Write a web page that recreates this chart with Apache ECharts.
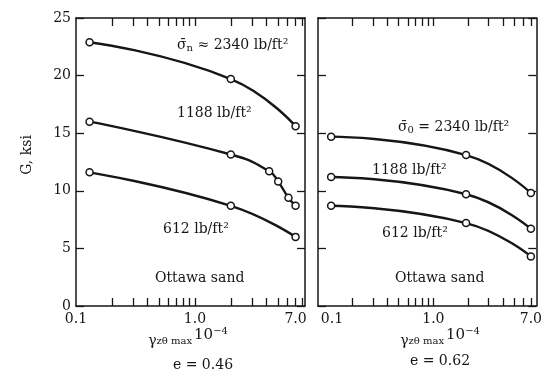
<!DOCTYPE html>
<html>
<head>
<meta charset="utf-8">
<script src="https://cdn.jsdelivr.net/npm/echarts@6/dist/echarts.min.js"></script>
<style>html,body{margin:0;padding:0;background:#fff;}#c{width:545px;height:370px;}</style>
</head>
<body>
<div id="c"></div>
<script>
// ---- data ----
const xTickLabels = [0.1, 1, 7];
const minorTicks = [0.2, 0.3, 0.4, 0.5, 0.6, 0.7, 0.8, 0.9, 1, 2, 3, 4, 5, 6, 7, 8];

// e = 0.46 (left panel)
const leftX2340 = [0.13, 2.0, 7.0];
const leftG2340 = [22.9, 19.7, 15.6];
const leftX1188 = [0.13, 2.0, 4.2, 5.0, 6.1, 7.0];
const leftG1188 = [16.0, 13.15, 11.7, 10.8, 9.4, 8.7];
const leftX612 = [0.13, 2.0, 7.0];
const leftG612 = [11.6, 8.7, 6.0];

// e = 0.62 (right panel)
const rightX = [0.13, 1.92, 7.0];
const rightG2340 = [14.7, 13.1, 9.8];
const rightG1188 = [11.2, 9.7, 6.7];
const rightG612 = [8.7, 7.2, 4.3];

const zip = (xs, ys) => xs.map((x, i) => [x, ys[i]]);
const FONT = 'DejaVu Serif';
const INK = '#161616';

function xAxis(gridIndex, max, position, labels, firstPad) {
  return {
    type: 'log', logBase: 10, gridIndex, min: 0.1, max, position,
    axisLine: { show: true, onZero: false, lineStyle: { color: INK, width: 1.5 } },
    axisTick: { show: true, inside: true, length: 8, customValues: minorTicks, lineStyle: { color: INK, width: 1.3 } },
    minorTick: { show: false },
    splitLine: { show: false },
    axisLabel: labels ? {
      show: true, customValues: xTickLabels, margin: 6,
      fontFamily: FONT, fontSize: 14, color: INK,
      rich: { p: { fontFamily: FONT, fontSize: 14, color: INK, padding: [0, 0, 0, firstPad || 0] } },
      formatter: v => (v < 1 ? '{p|' + v.toString() + '}' : v.toFixed(1))
    } : { show: false }
  };
}
function yAxis(gridIndex, position, labels) {
  return {
    type: 'value', gridIndex, min: 0, max: 25, interval: 5, position,
    axisLine: { show: true, onZero: false, lineStyle: { color: INK, width: 1.5 } },
    axisTick: { show: true, inside: true, length: 8, lineStyle: { color: INK, width: 1.3 } },
    splitLine: { show: false },
    axisLabel: labels ? { show: true, margin: 5, fontFamily: FONT, fontSize: 14, color: INK } : { show: false }
  };
}
function curve(xi, yi, data) {
  return {
    type: 'line', xAxisIndex: xi, yAxisIndex: yi, data, smooth: 0.5,
    symbol: 'circle', symbolSize: 7,
    lineStyle: { color: INK, width: 2.4 },
    itemStyle: { color: '#fff', borderColor: INK, borderWidth: 1.5 },
    z: 3
  };
}
function txt(x, y, text, extra) {
  return {
    type: 'text', x, y,
    style: Object.assign({ text, fontFamily: FONT, fontSize: 14, fill: INK, verticalAlign: 'middle' }, extra || {})
  };
}
const richSig = {
  s: { fontFamily: FONT, fontSize: 14, fill: INK },
  g: { fontFamily: FONT, fontSize: 14, fill: INK, padding: [6, 0, 0, 0] },
  sub: { fontFamily: FONT, fontSize: 10, fill: INK, padding: [7, 0, 0, 0] },
  ten: { fontFamily: FONT, fontSize: 15, fill: INK, padding: [0, 0, 6, 2] },
  sup: { fontFamily: FONT, fontSize: 10, fill: INK, padding: [0, 0, 14, 0] }
};
function rich(x, y, text, align) {
  return { type: 'text', x, y, style: { text, rich: richSig, fontFamily: FONT, fontSize: 14, fill: INK, verticalAlign: 'middle', align: align || 'left' } };
}

const chart = echarts.init(document.getElementById('c'), null, { renderer: 'canvas' });
chart.setOption({
  backgroundColor: '#fff',
  animation: false,
  grid: [
    { left: 76, top: 18, width: 229, height: 288 },
    { left: 318, top: 18, width: 225, height: 288 }
  ],
  xAxis: [
    xAxis(0, 8.4, 'bottom', true, 0), xAxis(0, 8.4, 'top', false),
    xAxis(1, 7.8, 'bottom', true, 28), xAxis(1, 7.8, 'top', false)
  ],
  yAxis: [
    yAxis(0, 'left', true), yAxis(0, 'right', false),
    yAxis(1, 'left', false), yAxis(1, 'right', false)
  ],
  series: [
    curve(0, 0, zip(leftX2340, leftG2340)),
    curve(0, 0, zip(leftX1188, leftG1188)),
    curve(0, 0, zip(leftX612, leftG612)),
    curve(2, 2, zip(rightX, rightG2340)),
    curve(2, 2, zip(rightX, rightG1188)),
    curve(2, 2, zip(rightX, rightG612))
  ],
  graphic: [
    rich(177, 45, '{s|σ̄}{sub|n}{s| ≈ 2340 lb/ft²}'),
    txt(177, 113, '1188 lb/ft²'),
    txt(163, 229, '612 lb/ft²'),
    txt(155, 278, 'Ottawa sand'),
    rich(398, 127, '{s|σ̄}{sub|0}{s| = 2340 lb/ft²}'),
    txt(372, 170, '1188 lb/ft²'),
    txt(382, 233, '612 lb/ft²'),
    txt(395, 278, 'Ottawa sand'),
    { type: 'text', x: 27, y: 155, rotation: Math.PI / 2,
      style: { text: 'G, ksi', fontFamily: FONT, fontSize: 14, fill: INK, align: 'center', verticalAlign: 'middle' } },
    rich(188, 338, '{g|γ}{sub|zθ max}{ten|10}{sup|−4}', 'center'),
    txt(203, 365, 'e = 0.46', { align: 'center' }),
    rich(440, 338, '{g|γ}{sub|zθ max}{ten|10}{sup|−4}', 'center'),
    txt(440, 361, 'e = 0.62', { align: 'center' })
  ]
});
</script>
</body>
</html>
